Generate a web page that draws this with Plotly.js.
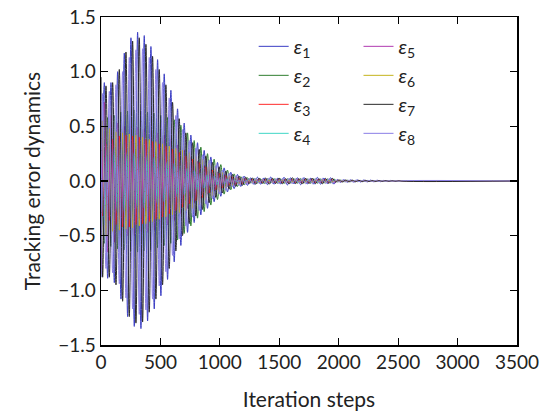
<!DOCTYPE html>
<html>
<head>
<meta charset="utf-8">
<script src="https://cdn.plot.ly/plotly-3.0.1.min.js"></script>
<style>html,body{margin:0;padding:0;background:#fff;}#chart{width:541px;height:415px;}</style>
</head>
<body>
<div id="chart"></div>
<script>
// Sample steps (peaks/troughs, half-period 28 steps); grid B is offset by a quarter period
const stepsA = [0,28,56,84,112,140,168,196,224,252,280,308,336,364,392,420,448,476,504,532,560,588,616,644,672,700,728,756,784,812,840,868,896,924,952,980,1008,1036,1064,1092,1120,1148,1176,1204,1232,1260,1288,1316,1344,1372,1400,1428,1456,1484,1512,1540,1568,1596,1624,1652,1680,1708,1736,1764,1792,1820,1848,1876,1904,1932,1960,1988,2016,2044,2072,2100,2128,2156,2184,2212,2240,2268,2296,2324,2352,2380,2408,2436,2464,2492,2520,3500];
const stepsB = [0,14,42,70,98,126,154,182,210,238,266,294,322,350,378,406,434,462,490,518,546,574,602,630,658,686,714,742,770,798,826,854,882,910,938,966,994,1022,1050,1078,1106,1134,1162,1190,1218,1246,1274,1302,1330,1358,1386,1414,1442,1470,1498,1526,1554,1582,1610,1638,1666,1694,1722,1750,1778,1806,1834,1862,1890,1918,1946,1974,2002,2030,2058,2086,2114,2142,2170,2198,2226,2254,2282,2310,2338,2366,2394,2422,2450,2478,2506,2534,3500];

const e1 = [-0.88,0.9,-0.89,0.9,-0.93,1.0,-1.08,1.17,-1.24,1.31,-1.33,1.36,-1.35,1.33,-1.28,1.23,-1.17,1.11,-1.05,0.98,-0.9,0.83,-0.74,0.66,-0.59,0.53,-0.47,0.42,-0.38,0.35,-0.31,0.28,-0.25,0.22,-0.19,0.17,-0.14,0.12,-0.1,0.08,-0.07,0.06,-0.05,0.045,-0.04,
  0.03,-0.032,0.035,-0.03,0.028,-0.033,0.036,-0.03,0.025,-0.028,0.034,-0.036,0.03,-0.026,0.03,-0.034,0.032,-0.028,0.026,-0.03,0.033,-0.03,0.027,-0.025,0.03,-0.028,
  0.013,-0.012,0.012,-0.011,0.01,-0.01,0.01,-0.009,0.009,-0.008,0.008,-0.007,0.007,-0.006,0.006,-0.005,0.005,-0.004,0.004,0,0];
const e2 = [0.55,-0.57,0.58,-0.6,0.6,-0.62,0.63,-0.63,0.64,-0.64,0.65,-0.65,0.64,-0.64,0.63,-0.63,0.62,-0.61,0.6,-0.59,0.58,-0.57,0.56,-0.54,0.51,-0.48,0.44,-0.41,0.37,-0.34,0.31,-0.28,0.25,-0.22,0.2,-0.17,0.15,-0.12,0.1,-0.08,0.065,-0.05,0.04,-0.035,0.03,
  -0.02,0.022,-0.018,0.02,-0.024,0.02,-0.018,0.022,-0.02,0.019,-0.023,0.02,-0.018,0.021,-0.02,0.022,-0.019,0.018,-0.021,0.02,-0.02,0.018,-0.02,0.019,-0.017,0.018,
  -0.008,0.008,-0.007,0.007,-0.006,0.006,-0.006,0.005,-0.005,0.005,-0.004,0.004,-0.004,0.004,-0.003,0.003,-0.003,0.003,-0.002,0,0];
const e3 = [0.3,-0.32,0.34,-0.36,0.38,-0.4,0.41,-0.42,0.42,-0.42,0.41,-0.4,0.4,-0.39,0.38,-0.37,0.36,-0.35,0.34,-0.33,0.32,-0.3,0.29,-0.27,0.26,-0.24,0.23,-0.21,0.2,-0.18,0.17,-0.15,0.13,-0.11,0.1,-0.08,0.07,-0.06,0.05,-0.04,0.035,-0.03,0.025,-0.02,0.018,
  -0.012,0.013,-0.011,0.012,-0.013,0.011,-0.012,0.013,-0.012,0.011,-0.013,0.012,-0.011,0.012,-0.013,0.012,-0.011,0.012,-0.012,0.011,-0.012,0.013,-0.011,0.012,-0.012,0.011,
  -0.005,0.005,-0.005,0.004,-0.004,0.004,-0.004,0.004,-0.003,0.003,-0.003,0.003,-0.003,0.003,-0.002,0.002,-0.002,0.002,-0.002,0.002,-0.002,0];
const e4 = [0.45,-0.4,0.36,-0.33,0.3,-0.29,0.28,-0.28,0.27,-0.27,0.26,-0.26,0.25,-0.25,0.24,-0.23,0.22,-0.21,0.2,-0.19,0.18,-0.17,0.16,-0.15,0.14,-0.13,0.12,-0.11,0.1,-0.09,0.08,-0.07,0.06,-0.05,0.045,-0.04,0.035,-0.03,0.025,-0.02,0.018,-0.016,0.014,-0.012,0.01,
  -0.008,0.009,-0.008,0.007,-0.009,0.008,-0.008,0.009,-0.007,0.008,-0.009,0.008,-0.007,0.008,-0.009,0.008,-0.008,0.007,-0.008,0.009,-0.008,0.007,-0.008,0.008,-0.007,0.008,
  -0.003,0.003,-0.003,0.003,-0.003,0.003,-0.002,0.002,-0.002,0.002,-0.002,0.002,-0.002,0.002,-0.001,0.001,-0.001,0.001,-0.001,0,0];
const e5 = [-0.8,0.72,-0.65,0.6,-0.56,0.53,-0.52,0.5,-0.5,0.5,-0.5,0.49,-0.48,0.48,-0.47,0.46,-0.45,0.44,-0.43,0.42,-0.4,0.38,-0.36,0.33,-0.3,0.28,-0.25,0.22,-0.2,0.18,-0.16,0.14,-0.12,0.1,-0.09,0.08,-0.07,0.06,-0.05,0.045,-0.04,0.035,-0.03,0.025,-0.02,
  0.015,-0.016,0.014,-0.015,0.016,-0.013,0.015,-0.016,0.014,-0.015,0.013,-0.016,0.015,-0.014,0.016,-0.015,0.013,-0.014,0.015,-0.016,0.014,-0.013,0.015,-0.014,0.013,-0.015,
  0.006,-0.006,0.005,-0.005,0.005,-0.005,0.004,-0.004,0.004,-0.004,0.003,-0.003,0.003,-0.003,0.003,-0.002,0.002,-0.002,0.002,0,0];
const e6 = [-0.6,0.55,-0.5,0.48,-0.46,0.45,-0.45,0.44,-0.44,0.43,-0.43,0.42,-0.41,0.4,-0.39,0.38,-0.37,0.36,-0.35,0.34,-0.33,0.32,-0.31,0.3,-0.29,0.28,-0.27,0.26,-0.25,0.23,-0.22,0.2,-0.18,0.16,-0.14,0.12,-0.1,0.08,-0.065,0.05,-0.04,0.032,-0.026,0.02,-0.016,
  0.01,-0.011,0.01,-0.009,0.011,-0.01,0.009,-0.011,0.01,-0.01,0.009,-0.011,0.01,-0.009,0.011,-0.01,0.01,-0.009,0.011,-0.01,0.009,-0.01,0.011,-0.01,0.009,-0.01,
  0.004,-0.004,0.004,-0.004,0.003,-0.003,0.003,-0.003,0.003,-0.003,0.002,-0.002,0.002,-0.002,0.002,-0.002,0.002,-0.001,0.001,-0.001,0.001,0];
const e7 = [0.95,-0.88,0.87,-0.88,0.9,-0.95,1.02,-1.1,1.18,-1.24,1.28,-1.3,1.31,-1.29,1.25,-1.2,1.14,-1.08,1.02,-0.95,0.88,-0.8,0.72,-0.64,0.57,-0.5,0.44,-0.39,0.35,-0.32,0.29,-0.26,0.23,-0.2,0.17,-0.15,0.13,-0.11,0.09,-0.075,0.06,-0.05,0.045,-0.04,0.035,
  -0.025,0.028,-0.03,0.026,-0.022,0.027,-0.03,0.025,-0.024,0.028,-0.026,0.022,-0.027,0.03,-0.025,0.023,-0.028,0.026,-0.024,0.027,-0.025,0.022,-0.026,0.024,-0.023,0.025,
  -0.01,0.01,-0.009,0.009,-0.008,0.008,-0.007,0.007,-0.006,0.006,-0.005,0.005,-0.005,0.004,-0.004,0.004,-0.003,0.003,-0.003,0.002,-0.002,0];
const e8 = [-0.85,0.8,-0.8,0.82,-0.84,0.88,-0.94,1.0,-1.07,1.13,-1.17,1.2,-1.22,1.21,-1.18,1.13,-1.08,1.02,-0.96,0.9,-0.83,0.76,-0.68,0.6,-0.53,0.47,-0.41,0.37,-0.33,0.3,-0.27,0.24,-0.21,0.19,-0.16,0.14,-0.12,0.1,-0.085,0.07,-0.055,0.045,-0.04,0.035,-0.03,
  0.022,-0.025,0.027,-0.024,0.02,-0.025,0.028,-0.022,0.021,-0.026,0.024,-0.02,0.025,-0.027,0.022,-0.021,0.026,-0.024,0.022,-0.025,0.023,-0.02,0.024,-0.022,0.021,-0.023,
  0.009,-0.009,0.008,-0.008,0.007,-0.007,0.006,-0.006,0.005,-0.005,0.005,-0.004,0.004,-0.004,0.003,-0.003,0.003,-0.002,0.002,-0.002,0.002,0];

const names = ['1','2','3','4','5','6','7','8'];
const seriesY = [e1,e2,e3,e4,e5,e6,e7,e8];
const seriesX = [stepsA,stepsA,stepsB,stepsA,stepsA,stepsB,stepsB,stepsB];
const colors = ['#3a3dc4','#2f7f2f','#ff2b2b','#3fd6c6','#b03ab0','#c4b41c','#2a2a2a','#8a7ee6'];

const FONT = 'Lato, "Noto Sans", sans-serif';
const traces = seriesY.map((y, k) => ({
  type: 'scatter', mode: 'lines',
  x: seriesX[k], y: y,
  name: '<i>ε</i><sub>' + names[k] + '</sub>',
  line: {color: colors[k], width: 1, shape: 'spline', smoothing: 1},
  legend: k < 4 ? 'legend' : 'legend2'
}));

const axisCommon = {
  showline: true, linecolor: '#000', linewidth: 1.5, mirror: 'ticks',
  ticks: 'inside', ticklen: 7, tickwidth: 1.2, tickcolor: '#000',
  showgrid: false, zeroline: false,
  tickfont: {family: FONT, size: 19, color: '#222'}
};

const legendCommon = {
  bgcolor: 'rgba(0,0,0,0)', borderwidth: 0,
  font: {family: FONT, size: 20, color: '#222'},
  xanchor: 'left', yanchor: 'top', itemwidth: 30, tracegroupgap: 0
};

const layout = {
  width: 541, height: 415,
  margin: {l: 101, r: 24, t: 17, b: 70},
  paper_bgcolor: '#fff', plot_bgcolor: '#fff',
  showlegend: true,
  xaxis: Object.assign({}, axisCommon, {
    range: [0, 3500], tick0: 0, dtick: 500,
    title: {text: 'Iteration steps', font: {family: FONT, size: 21, color: '#222'}, standoff: 20}
  }),
  yaxis: Object.assign({}, axisCommon, {
    range: [-1.5, 1.5], tick0: -1.5, dtick: 0.5, tickformat: '.1f',
    title: {text: 'Tracking error dynamics', font: {family: FONT, size: 21, color: '#222'}, standoff: 12}
  }),
  legend: Object.assign({}, legendCommon, {x: 0.367, y: 0.97}),
  legend2: Object.assign({}, legendCommon, {x: 0.619, y: 0.97})
};

Plotly.newPlot('chart', traces, layout, {displayModeBar: false, staticPlot: true});
</script>
</body>
</html>
